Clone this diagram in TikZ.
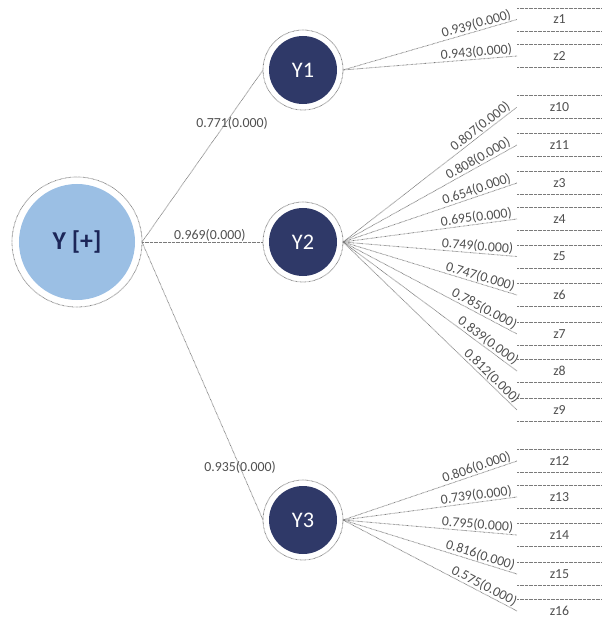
\documentclass[tikz,border=0pt]{standalone}
\usepackage{fontspec}
\setmainfont{Carlito}
\usepackage{tikz}
\usetikzlibrary{positioning}
\definecolor{ynavy}{HTML}{2F3968}
\definecolor{ylight}{HTML}{9BBFE4}
\definecolor{ytext}{HTML}{1C2658}
\definecolor{ydot}{HTML}{7A7A7A}
\definecolor{ylabel}{HTML}{505050}

\tikzset{
  dotline/.style={draw=ydot,line width=0.7pt,dash pattern=on 0.5pt off 0.6pt},
  rootnode/.style={circle,dotline,minimum size=3.9cm,inner sep=0pt,outer sep=0pt,
    text=ytext,font=\fontsize{22}{24}\selectfont\bfseries,
    path picture={\fill[ylight] (path picture bounding box.center) circle (1.74cm);}},
  latent/.style={circle,dotline,minimum size=2.4cm,inner sep=0pt,outer sep=0pt,
    text=white,font=\fontsize{19}{21}\selectfont,
    path picture={\fill[ynavy] (path picture bounding box.center) circle (1.02cm);}},
  indicator/.style={minimum width=2.55cm,minimum height=0.69cm,inner sep=0pt,outer sep=0pt,
    text=ylabel,font=\fontsize{11.8}{13}\selectfont},
  loading/.style={text=ylabel,font=\fontsize{11.8}{13}\selectfont,inner sep=0.5pt}
}

\begin{document}
\begin{tikzpicture}[x=0.03cm,y=-0.03cm]
  \useasboundingbox (0,0) rectangle (602,622);
  % construct and its dimensions
  \node[rootnode] (Y) at (77,242) {Y [+]};
  \node[latent] (Y1) at (303,70) {Y1};
  \node[latent] (Y2) at (303,242) {Y2};
  \node[latent] (Y3) at (303,520) {Y3};
  \draw[dotline] (Y.east) -- node[loading,pos=0.69,xshift=0.2cm] {0.771(0.000)} (Y1.west);
  \draw[dotline] (Y.east) -- node[loading,pos=0.56,above] {0.969(0.000)} (Y2.west);
  \draw[dotline] (Y.east) -- node[loading,pos=0.81] {0.935(0.000)} (Y3.west);
  % indicators
  \foreach \src/\z/\zy/\val in {Y1/z1/19.5/0.939, Y1/z2/56/0.943,
      Y2/z10/107/0.807, Y2/z11/145/0.808, Y2/z3/183/0.654, Y2/z4/219/0.695,
      Y2/z5/256.5/0.749, Y2/z6/295/0.747, Y2/z7/334/0.785, Y2/z8/371/0.839,
      Y2/z9/410/0.812,
      Y3/z12/461/0.806, Y3/z13/497/0.739, Y3/z14/535/0.795, Y3/z15/574/0.816,
      Y3/z16/611/0.575} {
    \node[indicator] (\z) at (559.5,\zy) {\z};
    \draw[dotline] (\z.north west) -- (\z.north east) (\z.south west) -- (\z.south east);
    \draw[dotline] (\src.east) -- node[loading,sloped,pos=0.98,anchor=south east] {\val(0.000)} (\z.west);
  }
\end{tikzpicture}
\end{document}
